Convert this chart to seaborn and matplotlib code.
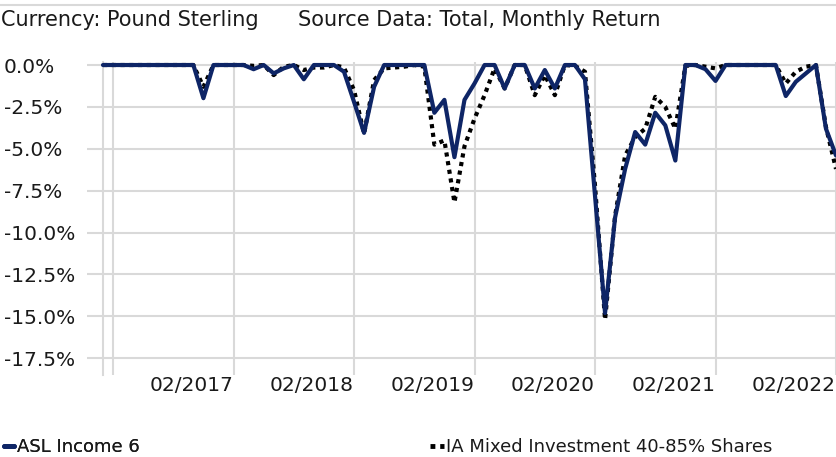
import numpy as np
import pandas as pd
import matplotlib
matplotlib.use("Agg")
import matplotlib.pyplot as plt
from matplotlib.lines import Line2D
import seaborn as sns

# ---- data (drawdown, %) monthly 01/2016 .. 02/2022 ----
months = pd.period_range("2016-01", "2022-02", freq="M")
asl_income_6 = [
    0, 0, 0, 0, 0, 0, 0, 0, 0, 0,            # 01/2016-10/2016
    -1.98, 0, 0, 0, 0, -0.25, 0, -0.5, -0.2, 0,  # 11/2016-08/2017
    -0.85, 0, 0, 0, -0.4, -2.2, -4.05, -1.3, 0, 0,  # 09/2017-06/2018
    0, 0, 0, -2.85, -2.08, -5.5, -2.08, -1.1, 0, 0,  # 07/2018-04/2019
    -1.4, 0, 0, -1.4, -0.3, -1.4, 0, 0, -0.85, -7.8,  # 05/2019-02/2020
    -14.8, -9.1, -6.2, -4.0, -4.75, -2.85, -3.6, -5.7, 0, 0,  # 03/2020-12/2020
    -0.25, -0.95, 0, 0, 0, 0, 0, 0, -1.85, -1.0,  # 01/2021-10/2021
    -0.5, 0, -3.8, -5.4,                        # 11/2021-02/2022
]
ia_mixed_40_85 = [
    0, 0, 0, 0, 0, 0, 0, 0, 0, 0,
    -1.3, 0, 0, 0, 0, -0.05, 0, -0.6, -0.1, 0,
    -0.3, -0.15, -0.15, 0, -0.15, -1.5, -4.1, -0.9, -0.2, -0.15,
    -0.1, 0, -0.1, -4.75, -4.5, -8.2, -4.85, -3.2, -1.8, -0.2,
    -1.4, 0, 0, -1.8, -0.6, -1.8, 0, -0.05, -0.4, -7.2,
    -15.2, -9.0, -5.4, -4.3, -3.8, -1.9, -2.5, -3.8, -0.05, 0,
    -0.1, -0.2, 0, 0, 0, 0, 0, 0, -1.1, -0.4,
    -0.1, 0, -3.7, -6.2,
]
series_names = ["ASL Income 6", "IA Mixed Investment 40-85% Shares"]
y_ticks = [0, -2.5, -5.0, -7.5, -10.0, -12.5, -15.0, -17.5]
header_left = "Currency: Pound Sterling"
header_right = "Source Data: Total, Monthly Return"

idx = np.arange(len(months))
df = pd.DataFrame({"idx": idx, "asl": asl_income_6, "ia": ia_mixed_40_85})

sns.set_theme(style="white")
plt.rcParams["font.family"] = ["DejaVu Sans"]

W, H = 836, 457
fig = plt.figure(figsize=(W / 100, H / 100), dpi=100)
ax_left, ax_right, ax_top, ax_bot = 103, 837, 62, 375
ax = fig.add_axes([ax_left / W, 1 - ax_bot / H, (ax_right - ax_left) / W, (ax_bot - ax_top) / H])

navy = "#0e2566"
grid_c = "#d9d9d9"
txt_c = "#1a1a1a"

sns.lineplot(data=df, x="idx", y="ia", ax=ax, color="black", linewidth=3.0,
             linestyle=(0, (1, 1.1)), label=series_names[1], legend=False, zorder=3)
ax.lines[-1].set_dash_capstyle("butt")
sns.lineplot(data=df, x="idx", y="asl", ax=ax, color=navy, linewidth=3.0,
             label=series_names[0], legend=False, zorder=4)
for ln in ax.lines:
    ln.set_clip_on(False)

ax.set_xlim(0, 73.1)
ax.set_ylim(-18.5, 0.18)

# x ticks: February of each year
feb_pos = [i for i, m in enumerate(months) if m.month == 2]
feb_lab = ["" if months[i].year == 2016 else f"{months[i].month:02d}/{months[i].year}" for i in feb_pos]
ax.set_xticks(feb_pos)
ax.set_xticklabels(feb_lab, fontsize=14.5, color=txt_c, ha="right")
ax.set_yticks(y_ticks)
ax.set_yticklabels([f"{v:.1f}%" for v in y_ticks], fontsize=14.5, color=txt_c, ha="left")

ax.grid(True, color=grid_c, linewidth=1.5)
ax.set_axisbelow(True)
# tick marks from x=88 to 104 px; labels left-aligned at x=5 px
ax.tick_params(axis="y", length=11.5, width=1.5, color=grid_c, pad=(88 - 5) * 0.72, left=True)
ax.tick_params(axis="x", length=0, pad=1)
for s in ["top", "right", "bottom"]:
    ax.spines[s].set_visible(False)
ax.spines["left"].set_color(grid_c)
ax.spines["left"].set_linewidth(1.5)
ax.set_xlabel("")
ax.set_ylabel("")

# header
fig.add_artist(Line2D([0, 1], [1 - 5 / H, 1 - 5 / H], color=grid_c, linewidth=1.5))
fig.text(1 / W, 1 - 20 / H, header_left, fontsize=15, color=txt_c, va="center", ha="left")
fig.text(298 / W, 1 - 20 / H, header_right, fontsize=15, color=txt_c, va="center", ha="left")

# legends
h1 = Line2D([], [], color=navy, linewidth=3.5)
h2 = Line2D([], [], color="black", linewidth=3.5, linestyle=(0, (1, 1)), dash_capstyle="butt")
leg1 = fig.legend([h1], [series_names[0]], loc="center left", bbox_to_anchor=(4 / W, 1 - 447 / H),
                  frameon=False, fontsize=13, handlelength=0.55, handletextpad=0.15,
                  borderpad=0, borderaxespad=0, labelcolor=txt_c)
leg2 = fig.legend([h2], [series_names[1]], loc="center left", bbox_to_anchor=(430 / W, 1 - 447 / H),
                  frameon=False, fontsize=13, handlelength=0.75, handletextpad=0.15,
                  borderpad=0, borderaxespad=0, labelcolor=txt_c)
fig.add_artist(leg1)

fig.savefig("out.png", dpi=100)
